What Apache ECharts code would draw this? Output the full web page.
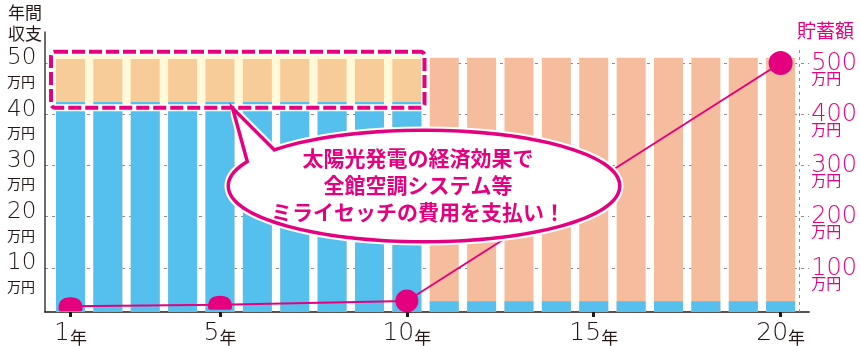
<!DOCTYPE html>
<html><head><meta charset="utf-8">
<script src="https://cdn.jsdelivr.net/npm/echarts@6/dist/echarts.min.js"></script>
<style>html,body{margin:0;padding:0;background:#fff}#c{width:860px;height:346px}</style>
</head><body><div id="c"></div>
<script>
// ---- data ----
const years = [1,2,3,4,5,6,7,8,9,10,11,12,13,14,15,16,17,18,19,20];
const incomeBlue = [42.4,42.4,42.4,42.4,42.4,42.4,42.4,42.4,42.4,42.4,3.5,3.5,3.5,3.5,3.5,3.5,3.5,3.5,3.5,3.5];
const incomeTotal = [50.8,50.8,50.8,50.8,50.8,50.8,50.8,50.8,50.8,50.8,51,51,51,51,51,51,51,51,51,51];
const savingYears = [1,5,10,20];
const savings = [25,28,35.5,500];
const xTicks = [1,5,10,15,20];
const leftTicks = [10,20,30,40,50];
const rightTicks = [100,200,300,400,500];

const DARK = '#231815', PINK = '#e4007f', BLUE = '#55c0ee', PEACH = '#f6bc9e', PEACH_IN = '#f8cc98';
const NUM = "'DejaVu Sans','Noto Sans CJK JP',sans-serif";
const JP = "'Noto Sans CJK JP',sans-serif";
const dome = 'path://M2,14 Q0,14 0,11 Q0,0 12,0 Q24,0 24,11 Q24,14 22,14 Z';

const chart = echarts.init(document.getElementById('c'), null, {renderer:'canvas'});
const blueData = years.map((y,i)=>[y, incomeBlue[i]]);
const totalData = years.map((y,i)=>({value:[y, incomeTotal[i]], itemStyle:{color: i<10 ? PEACH_IN : PEACH}}));
const lineData = savingYears.map((y,i)=>{
  const item = {value:[y, savings[i]]};
  if (i < 2) { item.symbol = dome; item.symbolSize = [24,14]; item.symbolOffset = [0,-2]; }
  else { item.symbol = 'circle'; item.symbolSize = i===2 ? 23 : 24; }
  return item;
});

const bubbleEllipse = {cx:424, cy:186, rx:194, ry:54};
const tail = [[236,114],[252,172],[280,158]];
const boxShape = {x:51, y:51.7, width:373.5, height:56, r:4};

chart.setOption({
  animation: false,
  title: [
    {text:'年間\n収支', left:3, top:-3, textStyle:{fontFamily:JP, fontSize:17, lineHeight:21, fontWeight:'normal', color:DARK}},
    {text:'貯蓄額', right:1, top:16, textStyle:{fontFamily:JP, fontSize:19, fontWeight:'normal', color:PINK}}
  ],
  grid: {left:45, right:50, top:32, bottom:32, containLabel:false},
  xAxis: {
    type:'value', min:0.3186, max:20.764,
    axisLine:{show:true, lineStyle:{color:DARK, width:1.5}},
    axisTick:{show:true, customValues:xTicks, length:5, lineStyle:{color:DARK, width:3}},
    axisLabel:{customValues:xTicks, margin:8, formatter:v=>`{n|${v}}{u|年}`,
      rich:{n:{fontFamily:NUM, fontSize:25, fontWeight:200, color:DARK, lineHeight:26, verticalAlign:'bottom'},
            u:{fontFamily:JP, fontSize:17, color:DARK, lineHeight:26, verticalAlign:'bottom'}}},
    splitLine:{show:false}
  },
  yAxis: [
    {type:'value', min:1.4, max:56.05, position:'left',
      axisLine:{show:true, lineStyle:{color:'#3e3a39', width:1.5}},
      axisTick:{show:false, customValues:leftTicks},
      axisLabel:{customValues:leftTicks, align:'left', margin:38, formatter:v=>`{n|${v}}\n{u|万円}`,
        rich:{n:{fontFamily:NUM, fontSize:23, fontWeight:200, color:DARK, lineHeight:37},
              u:{fontFamily:JP, fontSize:14, color:DARK, lineHeight:9}}},
      splitLine:{show:true, lineStyle:{color:'#8c8c8c', type:[3,4], width:1}}
    },
    {type:'value', min:14, max:560.5, position:'right',
      axisLine:{show:false}, axisTick:{show:false, customValues:rightTicks},
      axisLabel:{customValues:rightTicks, align:'left', margin:2, padding:[8,0,0,0], formatter:v=>`{n|${v}}\n{u|万円}`,
        rich:{n:{fontFamily:NUM, fontSize:24, fontWeight:200, color:PINK, lineHeight:22},
              u:{fontFamily:JP, fontSize:15, color:PINK, lineHeight:7}}},
      splitLine:{show:false}
    }
  ],
  series: [
    {type:'bar', barWidth:29, barGap:'-100%', data:totalData, z:2},
    {type:'bar', barWidth:29, barGap:'-100%', data:blueData, itemStyle:{color:BLUE}, z:3},
    {type:'line', yAxisIndex:1, data:lineData, z:5, lineStyle:{color:PINK, width:2}, itemStyle:{color:PINK},
      showAllSymbol:true, clip:false,
      markLine:{silent:true, symbol:'none', label:{show:false}, lineStyle:{color:'#8c8c8c', type:[3,4], width:1},
        data:[[{coord:[20.5,14]},{coord:[20.5,530]}]]}}
  ],
  graphic: {elements: [
    {type:'rect', z:1, shape:boxShape, style:{fill:'#fff9da'}},
    {type:'rect', z:100, shape:boxShape, style:{fill:null, stroke:'#fff', lineWidth:7}},
    {type:'rect', z:101, shape:boxShape, style:{fill:null, stroke:PINK, lineWidth:4, lineDash:[13,4]}},
    {type:'ellipse', z:100, shape:bubbleEllipse, style:{fill:'#fff', stroke:'#fff', lineWidth:11}},
    {type:'polygon', z:100, shape:{points:tail}, style:{fill:'#fff', stroke:'#fff', lineWidth:11, lineJoin:'round'}},
    {type:'ellipse', z:101, shape:bubbleEllipse, style:{fill:'#fff', stroke:PINK, lineWidth:7}},
    {type:'polygon', z:101, shape:{points:tail}, style:{fill:'#fff', stroke:PINK, lineWidth:7, lineJoin:'miter'}},
    {type:'ellipse', z:102, shape:bubbleEllipse, style:{fill:'#fff'}},
    {type:'polygon', z:102, shape:{points:tail}, style:{fill:'#fff'}},
    {type:'text', z:103, x:418, y:185, style:{text:'太陽光発電の経済効果で\n全館空調システム等\nミライセッチの費用を支払い！',
      fill:PINK, font:"bold 21px 'Noto Sans CJK JP'", lineHeight:27, align:'center', verticalAlign:'middle'}}
  ]}
});
</script></body></html>
